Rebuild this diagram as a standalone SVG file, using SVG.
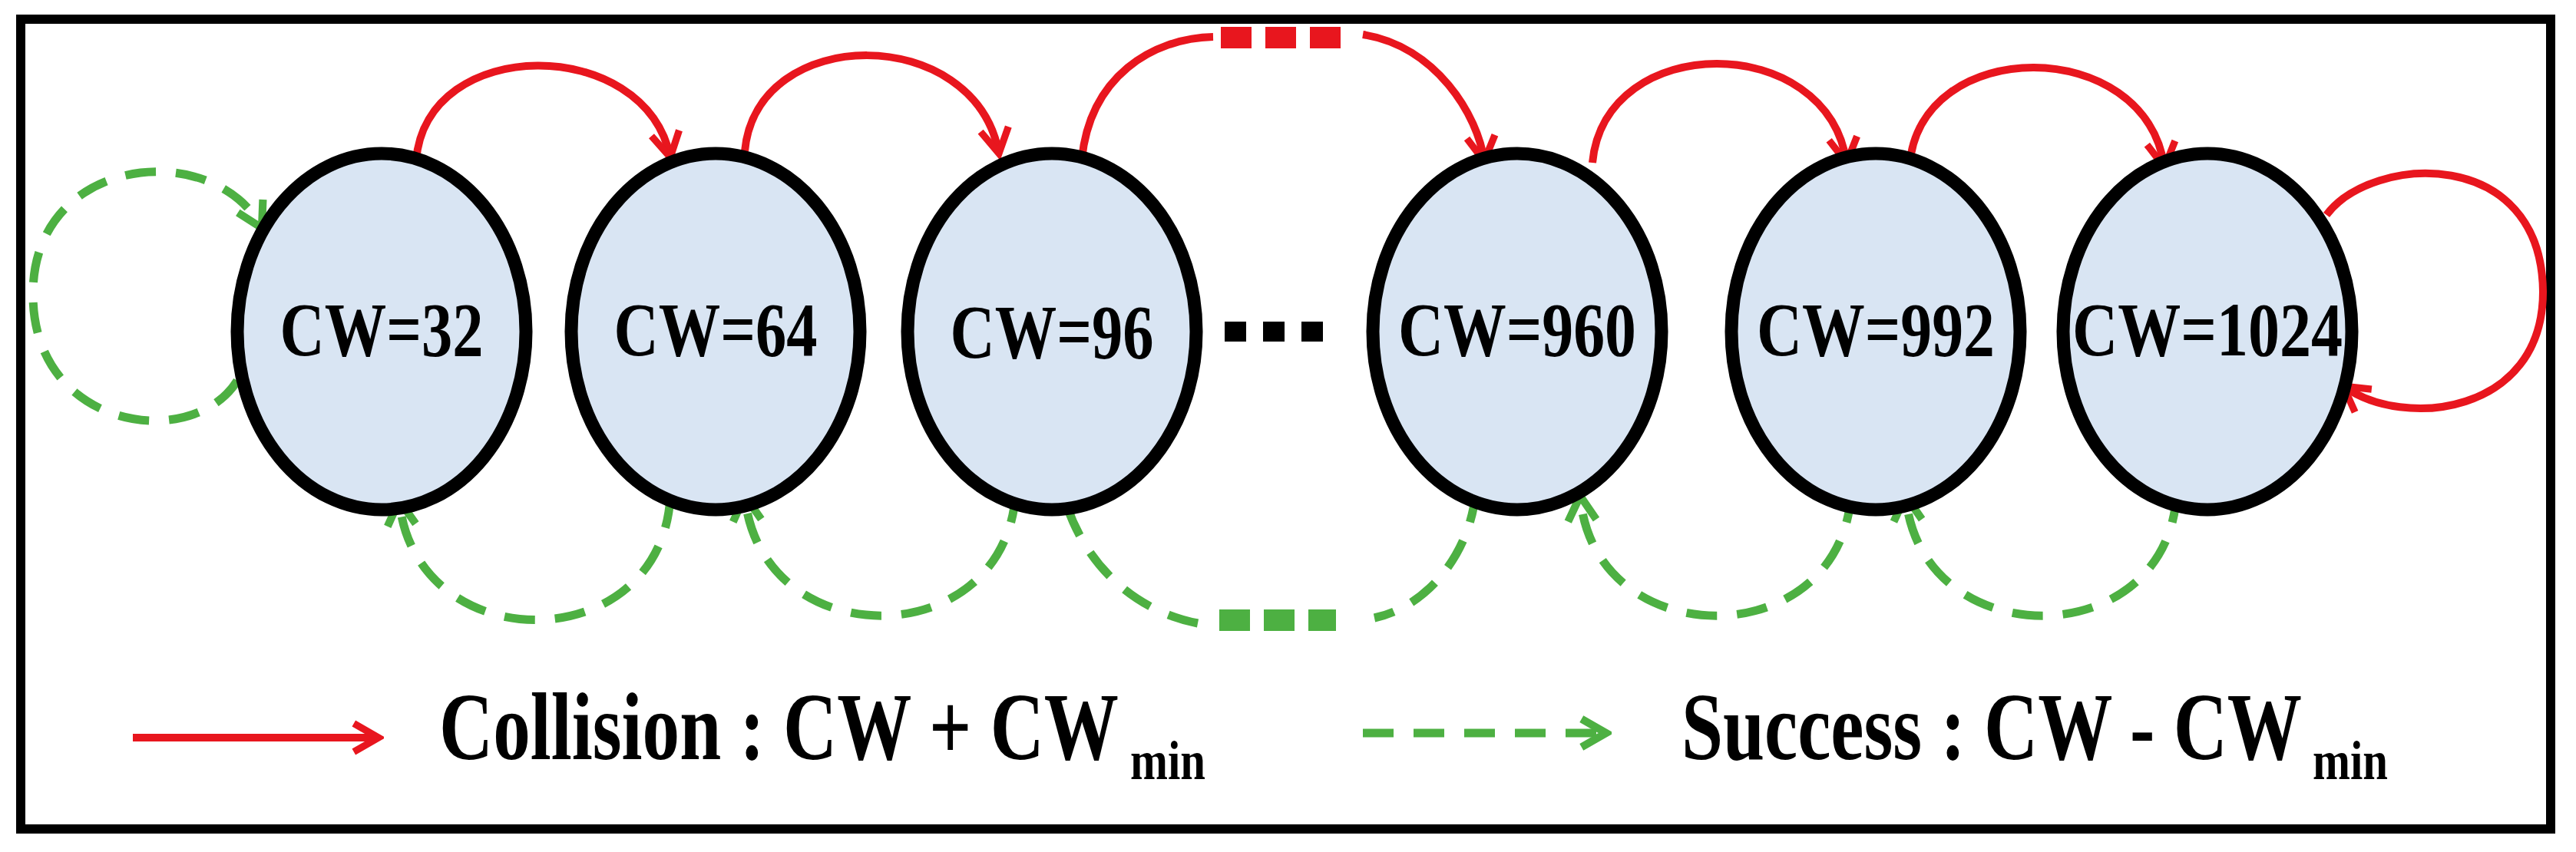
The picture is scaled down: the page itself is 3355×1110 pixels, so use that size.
<svg xmlns="http://www.w3.org/2000/svg" width="3355" height="1110" viewBox="0 0 3355 1110">
<style>
.node{fill:#D9E5F3;stroke:#000;stroke-width:17}
.lbl{font-family:"Liberation Serif",serif;font-weight:bold;font-size:100px;text-anchor:middle;fill:#000}
.leg{font-family:"Liberation Serif",serif;font-weight:bold;font-size:124px;fill:#000}
.sub{font-size:72px}
.red{fill:none;stroke:#E8161E;stroke-width:10}
.grn{fill:none;stroke:#4DB042;stroke-width:11;stroke-dasharray:40 26}
</style>
<defs>
<marker id="ar" viewBox="0 0 20 20" refX="17" refY="10" markerWidth="46" markerHeight="46" markerUnits="userSpaceOnUse" orient="auto"><path d="M3,2 L17,10 L3,18" fill="none" stroke="#E8161E" stroke-width="4"/></marker>
<marker id="ag" viewBox="0 0 20 20" refX="17" refY="10" markerWidth="46" markerHeight="46" markerUnits="userSpaceOnUse" orient="auto"><path d="M3,2 L17,10 L3,18" fill="none" stroke="#4DB042" stroke-width="4.4"/></marker>
</defs>
<rect x="0" y="0" width="3355" height="1110" fill="#fff"/>
<rect x="27" y="25" width="3295" height="1055" fill="none" stroke="#000" stroke-width="12"/>
<g id="connectors">
<path class="red" d="M542,209 C555,45 840,45 873,205" marker-end="url(#ar)"/>
<path class="red" d="M970,197 C985,30 1270,30 1301,200" marker-end="url(#ar)"/>
<path class="red" d="M1409,207 C1420,100 1500,50 1580,48"/>
<line x1="1590" y1="49" x2="1752" y2="49" stroke="#E8161E" stroke-width="28" stroke-dasharray="40 18"/>
<path class="red" d="M1775,45 C1870,60 1925,150 1933,210" marker-end="url(#ar)"/>
<path class="red" d="M2074,212 C2090,40 2380,40 2405,212" marker-end="url(#ar)"/>
<path class="red" d="M2487,216 C2500,45 2795,45 2819,218" marker-end="url(#ar)"/>
<path class="red" d="M3030,280 C3090,200 3310,190 3312,380 C3312,540 3130,560 3052,503" marker-end="url(#ar)"/>
<path class="grn" d="M309,496 C250,590 40,560 43,380 C45,200 280,180 341,297" marker-end="url(#ag)"/>
<path class="grn" d="M873,648 C860,860 540,860 520,652" marker-end="url(#ag)"/>
<path class="grn" d="M1323,641 C1310,855 990,855 970,646" marker-end="url(#ag)"/>
<path class="grn" d="M1922,641 C1915,720 1860,790 1790,805"/>
<line x1="1588" y1="808" x2="1740" y2="808" stroke="#4DB042" stroke-width="28" stroke-dasharray="40 18"/>
<path class="grn" d="M1560,812 C1450,790 1395,700 1382,630" marker-end="url(#ag)"/>
<path class="grn" d="M2411,641 C2400,855 2075,855 2058,646" marker-end="url(#ag)"/>
<path class="grn" d="M2835,641 C2825,855 2500,855 2482,646" marker-end="url(#ag)"/>
<line x1="173" y1="961" x2="493" y2="961" class="red" marker-end="url(#ar)"/>
<line x1="1775" y1="955" x2="2092" y2="955" class="grn" stroke-dasharray="42 30" marker-end="url(#ag)"/>
</g>
<g id="n32"><ellipse class="node" cx="497" cy="432" rx="188" ry="232"/><text class="lbl" x="497" y="463" textLength="265" lengthAdjust="spacingAndGlyphs">CW=32</text></g>
<g id="n64"><ellipse class="node" cx="932" cy="432" rx="188" ry="232"/><text class="lbl" x="932" y="463" textLength="265" lengthAdjust="spacingAndGlyphs">CW=64</text></g>
<g id="n96"><ellipse class="node" cx="1370" cy="432" rx="188" ry="232"/><text class="lbl" x="1370" y="466" textLength="265" lengthAdjust="spacingAndGlyphs">CW=96</text></g>
<g id="dots"><line x1="1595" y1="432" x2="1745" y2="432" stroke="#000" stroke-width="26" stroke-dasharray="28 22"/></g>
<g id="n960"><ellipse class="node" cx="1976" cy="432" rx="188" ry="232"/><text class="lbl" x="1976" y="463" textLength="310" lengthAdjust="spacingAndGlyphs">CW=960</text></g>
<g id="n992"><ellipse class="node" cx="2443" cy="432" rx="188" ry="232"/><text class="lbl" x="2443" y="463" textLength="310" lengthAdjust="spacingAndGlyphs">CW=992</text></g>
<g id="n1024"><ellipse class="node" cx="2875" cy="432" rx="188" ry="232"/><text class="lbl" x="2875" y="463" textLength="352" lengthAdjust="spacingAndGlyphs">CW=1024</text></g>
<g id="legend">
<text class="leg" x="572" y="989"><tspan textLength="885" lengthAdjust="spacingAndGlyphs">Collision : CW + CW</tspan><tspan class="sub" x="1472" dy="26" textLength="98" lengthAdjust="spacingAndGlyphs">min</tspan></text>
<text class="leg" x="2190" y="989"><tspan textLength="808" lengthAdjust="spacingAndGlyphs">Success : CW - CW</tspan><tspan class="sub" x="3012" dy="26" textLength="98" lengthAdjust="spacingAndGlyphs">min</tspan></text>
</g>
</svg>
